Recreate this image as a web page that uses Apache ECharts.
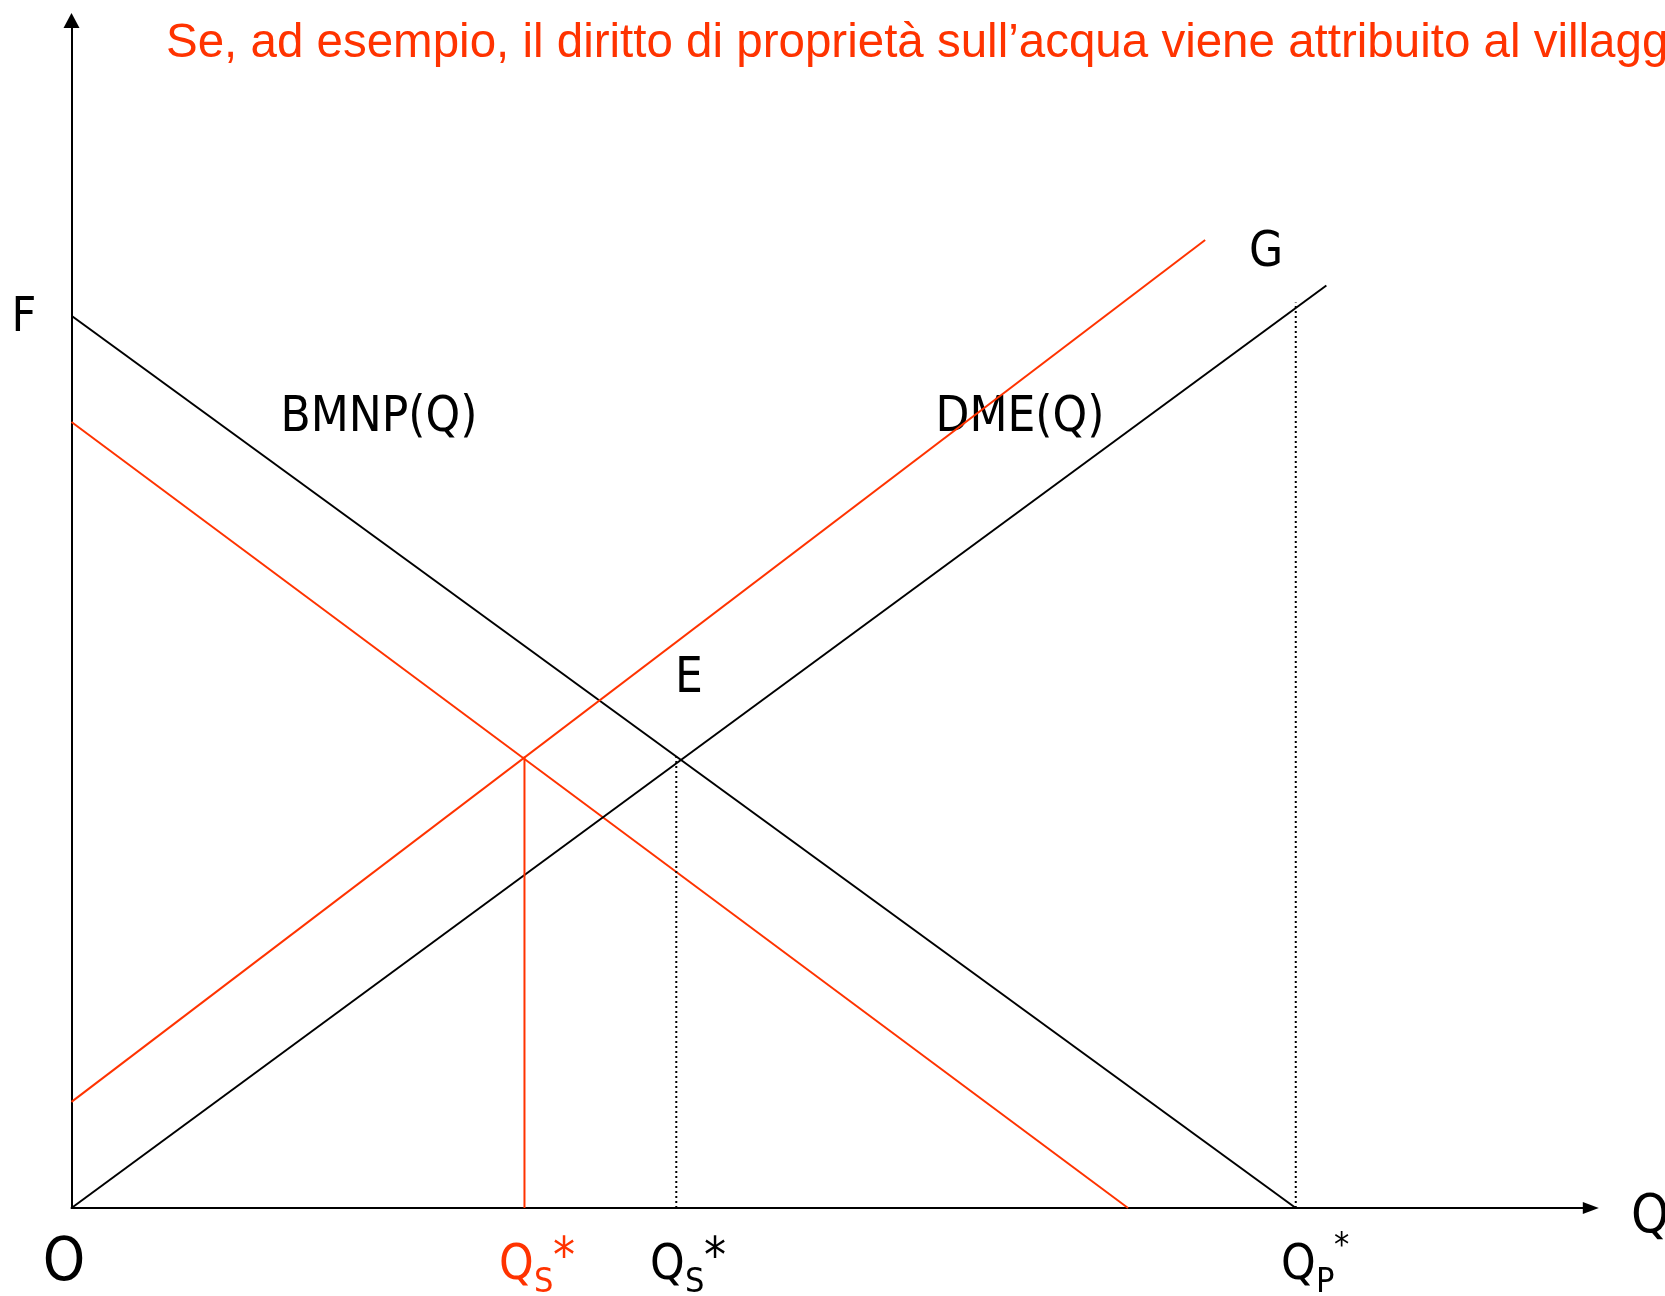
<!DOCTYPE html>
<html>
<head>
<meta charset="utf-8">
<script src="https://cdn.jsdelivr.net/npm/echarts@6/dist/echarts.min.js"></script>
<style>
html,body{margin:0;padding:0;background:#fff;overflow:hidden;}
#chart{width:1665px;height:1296px;}
</style>
</head>
<body>
<div id="chart"></div>
<script>
// Quantities (Q) and values (F); F intercept = 100, Qp* = 100
const bmnpQ = [0, 100];
const bmnpF = [100, 0];
const redDemandQ = [0, 86.3];
const redDemandF = [88.1, 0];
const dmeQ = [0, 102.5];
const dmeF = [0, 103.4];
const redSupplyQ = [0, 92.6];
const redSupplyF = [11.9, 108.5];
const qsRedQ = [37.0, 37.0];
const qsRedF = [0, 50.6];
const qsBlackQ = [49.4, 49.4];
const qsBlackF = [0, 50.6];
const qpQ = [100, 100];
const qpF = [0, 101.5];
const axisMaxQ = 124.1;
const axisMaxF = 133.1;

const titleText = "Se, ad esempio, il diritto di proprietà sull’acqua viene attribuito al villaggio";

function pts(xs, ys) { return xs.map((x, i) => [x, ys[i]]); }

const RED = '#FF3300';
const chart = echarts.init(document.getElementById('chart'), null, {renderer: 'canvas'});

function lineSeries(name, xs, ys, color, type) {
  return {
    name: name, type: 'line', data: pts(xs, ys), symbol: 'none', silent: true,
    animation: false,
    lineStyle: {color: color, width: 2, type: type || 'solid'}
  };
}

const labelFont = '"DejaVu Sans Condensed", "DejaVu Sans", sans-serif';

function txt(x, y, text, size, color, align, vAlign) {
  return {
    type: 'text', x: x, y: y, silent: true,
    style: {text: text, fontSize: size, fontFamily: labelFont, fill: color || '#000',
      align: align || 'center', verticalAlign: vAlign || 'middle'}
  };
}

chart.setOption({
  animation: false,
  backgroundColor: '#fff',
  grid: {left: 71.5, right: 74.2, top: 20.5, bottom: 1296 - 1208, containLabel: false},
  xAxis: {
    type: 'value', min: 0, max: axisMaxQ,
    axisLine: {show: true, onZero: false, symbol: ['none', 'triangle'], symbolSize: [12, 16],
      lineStyle: {color: '#000', width: 2}},
    axisTick: {show: false}, axisLabel: {show: false}, splitLine: {show: false}
  },
  yAxis: {
    type: 'value', min: 0, max: axisMaxF,
    axisLine: {show: true, onZero: false, symbol: ['none', 'triangle'], symbolSize: [16, 15],
      lineStyle: {color: '#000', width: 2}},
    axisTick: {show: false}, axisLabel: {show: false}, splitLine: {show: false}
  },
  series: [
    lineSeries('BMNP(Q)', bmnpQ, bmnpF, '#000'),
    lineSeries('BMNP red', redDemandQ, redDemandF, RED),
    lineSeries('DME(Q)', dmeQ, dmeF, '#000'),
    lineSeries('G', redSupplyQ, redSupplyF, RED),
    lineSeries('QsRed', qsRedQ, qsRedF, RED),
    lineSeries('QsBlack', qsBlackQ, qsBlackF, '#000', [2, 3]),
    lineSeries('Qp', qpQ, qpF, '#000', [2, 3])
  ],
  graphic: [
    {type: 'text', x: 166, y: 44, silent: true,
      style: {text: titleText, fontSize: 47.5, fontFamily: '"Liberation Sans", Arial, sans-serif',
        fill: RED, align: 'left', verticalAlign: 'middle'}},
    txt(24, 319, 'F', 48),
    txt(379, 418, 'BMNP(Q)', 49),
    txt(1020, 418, 'DME(Q)', 49),
    txt(1266, 253, 'G', 49),
    txt(689, 679, 'E', 49),
    txt(64, 1264, 'O', 60),
    // red Qs*
    txt(499, 1266, 'Q', 49, RED, 'left'),
    txt(534, 1283, 'S', 34, RED, 'left'),
    txt(553, 1259, '*', 49, RED, 'left'),
    // black Qs*
    txt(650, 1266, 'Q', 49, '#000', 'left'),
    txt(685, 1283, 'S', 34, '#000', 'left'),
    txt(704, 1259, '*', 49, '#000', 'left'),
    // Qp*
    txt(1281, 1266, 'Q', 49, '#000', 'left'),
    txt(1316, 1283, 'P', 34, '#000', 'left'),
    txt(1334, 1247, '*', 34, '#000', 'left'),
    // Q axis name
    txt(1631, 1218, 'Q', 54, '#000', 'left')
  ]
});
</script>
</body>
</html>
